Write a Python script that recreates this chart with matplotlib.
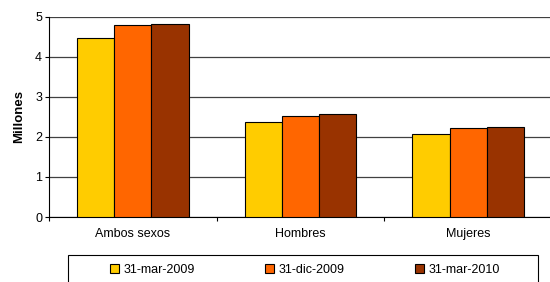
import matplotlib
matplotlib.use("Agg")
import matplotlib.pyplot as plt
import numpy as np
from matplotlib.patches import Rectangle

categories = ["Ambos sexos", "Hombres", "Mujeres"]
series_names = ["31-mar-2009", "31-dic-2009", "31-mar-2010"]
v_mar2009 = [4.47, 2.38, 2.07]
v_dic2009 = [4.80, 2.53, 2.22]
v_mar2010 = [4.83, 2.56, 2.25]
colors = ["#FFCC00", "#FF6600", "#993300"]
y_ticks = [0, 1, 2, 3, 4, 5]

plt.rcParams['font.family'] = ['Liberation Sans', 'DejaVu Sans']

W, H = 550, 282
fig = plt.figure(figsize=(W/100, H/100), dpi=100)
ax = fig.add_axes([49/W, 1-217/H, (552-49)/W, (217-16.7)/H])

x = np.arange(len(categories))
bw = 0.222
handles = []
for i, (vals, c, name) in enumerate(zip([v_mar2009, v_dic2009, v_mar2010], colors, series_names)):
    b = ax.bar(x + (i-1)*bw, vals, bw, color=c, edgecolor='black', linewidth=0.8, label=name, zorder=3)
    handles.append(b)

ax.set_xlim(-0.5, 2.5)
ax.set_ylim(0, 5)
ax.set_yticks(y_ticks)
ax.set_yticklabels([str(t) for t in y_ticks], fontsize=9)
ax.yaxis.grid(True, color='#404040', linewidth=0.9, zorder=0)
ax.set_axisbelow(True)
ax.set_xticks([-0.5, 0.5, 1.5, 2.5])
ax.set_xticklabels([])
ax.set_xticks(x, minor=True)
ax.set_xticklabels(categories, minor=True, fontsize=9)
ax.tick_params(axis='x', which='minor', length=0, pad=8)
ax.tick_params(axis='x', which='major', length=3, width=0.8, direction='out')
ax.tick_params(axis='y', length=3, width=0.8, direction='out', pad=2)
for s in ['top', 'right']:
    ax.spines[s].set_visible(False)
for s in ['left', 'bottom']:
    ax.spines[s].set_linewidth(0.8)
    ax.spines[s].set_color('black')
ax.set_ylabel("Millones", fontsize=9.5, fontweight='bold', labelpad=7)

fig.patches.append(Rectangle((68/W, -10/H), 470/W, 37/H, transform=fig.transFigure,
                             fill=False, edgecolor='black', linewidth=0.8))
fig.legend(handles=handles, labels=series_names, loc='center', bbox_to_anchor=(305/W, 1-270/H),
           ncol=3, frameon=False, fontsize=9, handlelength=0.7, handleheight=0.7,
           handletextpad=0.4, columnspacing=5.6)

fig.savefig("out.png", dpi=100)
